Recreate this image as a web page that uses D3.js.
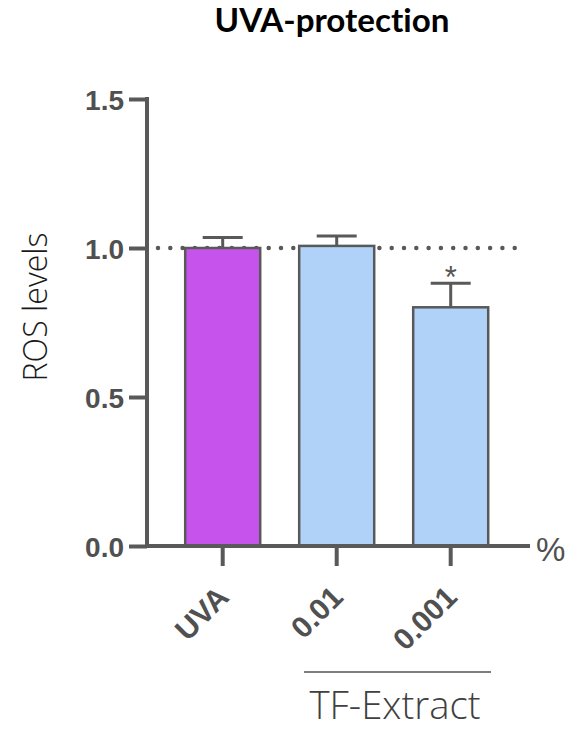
<!DOCTYPE html>
<html>
<head>
<meta charset="utf-8">
<script src="https://cdn.jsdelivr.net/npm/d3@7"></script>
<style>
  body { margin: 0; background: #fff; }
  svg { display: block; }
</style>
</head>
<body>
<div id="chart"></div>
<script>
// data
const categories = ['UVA', '0.01', '0.001']
const means = [1.0, 1.007, 0.801]
const errTops = [1.035, 1.040, 0.882]
const fills = ['#c653ec', '#b1d2f8', '#b1d2f8']
const yTicks = [0.0, 0.5, 1.0, 1.5]
const stars = ['', '', '*']
const refLevel = 1.0

const W = 577, H = 730
const axisCol = '#595959'

const svg = d3.select('#chart').append('svg')
  .attr('width', W)
  .attr('height', H)

const y = d3.scaleLinear().domain([0, 1.5]).range([546, 99])
const x = d3.scaleBand().domain(categories)
  .range([165.7, 507.7])
  .paddingInner(0.342)
  .paddingOuter(0.171)

// shrink/grow a text's font size until it spans the wanted width
function fitWidth(sel, target, base) {
  sel.style('font-size', base + 'px')
  let w = sel.node().getComputedTextLength()
  sel.style('font-size', (base * target / w).toFixed(2) + 'px')
}

// title
let title = svg.append('text')
  .attr('x', 332).attr('y', 32)
  .attr('text-anchor', 'middle')
  .style('font-family', 'Lato, "Open Sans", sans-serif')
  .style('font-weight', 700)
  .style('font-variant-ligatures', 'none')
  .attr('fill', '#000')
  .text('UVA-protection')
fitWidth(title, 235, 33)

// y label
let ylab = svg.append('text')
  .attr('transform', 'translate(47,307) rotate(-90)')
  .attr('text-anchor', 'middle')
  .style('font-family', '"Open Sans", sans-serif')
  .style('font-weight', 300)
  .attr('fill', '#1a1a1a')
  .text('ROS levels')
fitWidth(ylab, 149, 28)

// dotted reference line (behind bars)
svg.append('line')
  .attr('x1', 158).attr('x2', 522)
  .attr('y1', y(refLevel)).attr('y2', y(refLevel))
  .attr('stroke', axisCol)
  .attr('stroke-width', 4.5)
  .attr('stroke-linecap', 'round')
  .attr('stroke-dasharray', '0,12.3')

// error bars
for (let i = 0; i < categories.length; i++) {
  let cx = x(categories[i]) + x.bandwidth() / 2
  svg.append('line')
    .attr('x1', cx).attr('x2', cx)
    .attr('y1', y(means[i])).attr('y2', y(errTops[i]))
    .attr('stroke', axisCol).attr('stroke-width', 3)
  svg.append('line')
    .attr('x1', cx - 20).attr('x2', cx + 20)
    .attr('y1', y(errTops[i])).attr('y2', y(errTops[i]))
    .attr('stroke', axisCol).attr('stroke-width', 3)
  if (stars[i]) {
    svg.append('text')
      .attr('x', cx).attr('y', y(errTops[i]) + 5)
      .attr('text-anchor', 'middle')
      .style('font-family', '"Liberation Sans", Arial, sans-serif')
      .style('font-size', '31px')
      .attr('fill', '#555')
      .text(stars[i])
  }
}

// bars
svg.selectAll('rect.bar')
  .data(categories)
  .enter().append('rect')
  .attr('class', 'bar')
  .attr('x', d => x(d))
  .attr('y', (d, i) => y(means[i]))
  .attr('width', x.bandwidth())
  .attr('height', (d, i) => y(0) - y(means[i]))
  .attr('fill', (d, i) => fills[i])
  .attr('stroke', axisCol)
  .attr('stroke-width', 2.5)

// y axis
const yAxis = d3.axisLeft(y)
  .tickValues(yTicks)
  .tickFormat(d3.format('.1f'))
  .tickSize(18)
  .tickPadding(5)
const gy = svg.append('g')
  .attr('transform', 'translate(147,0)')
  .call(yAxis)
gy.select('.domain').attr('d', 'M0,' + (y(1.5) - 2) + 'V' + (y(0) + 2))
gy.selectAll('line, .domain').attr('stroke', axisCol).attr('stroke-width', 4)
gy.selectAll('text')
  .style('font-family', '"Liberation Sans", Arial, sans-serif')
  .style('font-weight', 700)
  .style('font-size', '28px')
  .attr('fill', '#505050')
  .attr('dy', '0.36em')

// x axis
const xAxis = d3.axisBottom(x).tickSize(20).tickFormat('')
const gx = svg.append('g')
  .attr('transform', 'translate(0,' + y(0) + ')')
  .call(xAxis)
gx.select('.domain').attr('d', 'M145,0H530')
gx.selectAll('line, .domain').attr('stroke', axisCol).attr('stroke-width', 4)

// rotated category labels
svg.selectAll('text.xlab')
  .data(categories)
  .enter().append('text')
  .attr('class', 'xlab')
  .attr('transform', d => 'translate(' + (x(d) + x.bandwidth() / 2 + 8) + ',599) rotate(-45)')
  .attr('text-anchor', 'end')
  .style('font-family', '"Liberation Sans", Arial, sans-serif')
  .style('font-weight', 700)
  .style('font-size', '30px')
  .attr('fill', '#505050')
  .text(d => d)

// unit
svg.append('text')
  .attr('x', 536).attr('y', 561)
  .style('font-family', '"Liberation Sans", Arial, sans-serif')
  .style('font-size', '33px')
  .attr('fill', '#505050')
  .text('%')

// group bracket
svg.append('line')
  .attr('x1', 304).attr('x2', 491)
  .attr('y1', 672).attr('y2', 672)
  .attr('stroke', '#555').attr('stroke-width', 1.5)
let grp = svg.append('text')
  .attr('x', 395).attr('y', 719)
  .attr('text-anchor', 'middle')
  .style('font-family', '"Open Sans", sans-serif')
  .style('font-weight', 300)
  .attr('fill', '#404040')
  .text('TF-Extract')
fitWidth(grp, 171, 32)
</script>
</body>
</html>
